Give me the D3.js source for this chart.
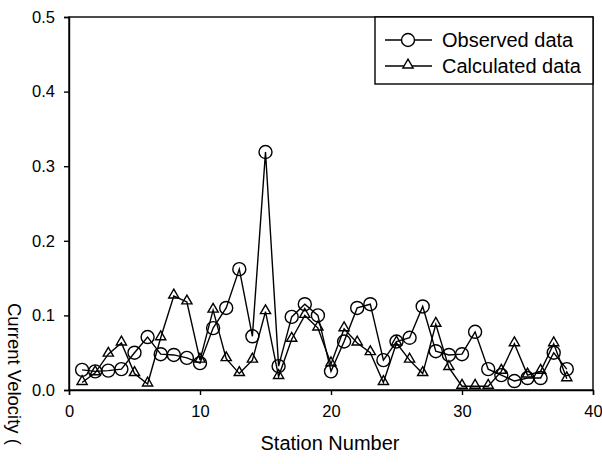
<!DOCTYPE html>
<html>
<head>
<meta charset="utf-8">
<script src="https://cdn.jsdelivr.net/npm/d3@7"></script>
<style>
body { margin: 0; background: #fff; }
svg { display: block; font-family: "Liberation Sans", Arial, sans-serif; }
</style>
</head>
<body>
<svg width="602" height="464"></svg>
<script>
const stations = d3.range(1, 39);
const observed = [0.027, 0.025, 0.026, 0.028, 0.05, 0.071, 0.048, 0.047, 0.043, 0.036,
	0.083, 0.11, 0.162, 0.072, 0.319, 0.032, 0.098, 0.115, 0.1, 0.025,
	0.065, 0.11, 0.115, 0.04, 0.065, 0.07, 0.112, 0.052, 0.047, 0.048,
	0.078, 0.028, 0.02, 0.012, 0.016, 0.016, 0.05, 0.028];
const calculated = [0.01, 0.023, 0.048, 0.063, 0.022, 0.008, 0.07, 0.126, 0.118, 0.04,
	0.107, 0.042, 0.022, 0.04, 0.105, 0.018, 0.068, 0.1, 0.083, 0.035,
	0.082, 0.063, 0.05, 0.01, 0.063, 0.04, 0.022, 0.088, 0.03, 0.005,
	0.005, 0.005, 0.025, 0.062, 0.02, 0.025, 0.062, 0.015];
const xTicks = [0, 10, 20, 30, 40];
const yTicks = [0.0, 0.1, 0.2, 0.3, 0.4, 0.5];

const svg = d3.select("svg");
const mLeft = 69, mRight = 593, mTop = 17, mBottom = 390;

const x = d3.scaleLinear().domain([0, 40]).range([mLeft, mRight]);
const y = d3.scaleLinear().domain([0, 0.5]).range([mBottom, mTop]);

// frame
svg.append("rect")
	.attr("x", mLeft).attr("y", mTop)
	.attr("width", mRight - mLeft).attr("height", mBottom - mTop)
	.attr("fill", "none").attr("stroke", "#000").attr("stroke-width", 1.4);

const xAxis = svg.append("g")
	.attr("transform", `translate(0,${mBottom})`)
	.call(d3.axisBottom(x).tickValues(xTicks).tickSize(5).tickPadding(10).tickFormat(d3.format("d")));
const yAxis = svg.append("g")
	.attr("transform", `translate(${mLeft},0)`)
	.call(d3.axisLeft(y).tickValues(yTicks).tickSize(5).tickPadding(9).tickFormat(d3.format(".1f")));

[xAxis, yAxis].forEach((g) => {
	g.select(".domain").attr("stroke-width", 1.4);
	g.selectAll("text").attr("font-size", 16.5).attr("font-family", "Liberation Sans, Arial, sans-serif").attr("fill", "#000");
	g.selectAll("line").attr("stroke-width", 1.4);
});

svg.append("text")
	.attr("x", (mLeft + mRight) / 2 - 1).attr("y", 450)
	.attr("text-anchor", "middle").attr("font-size", 20)
	.text("Station Number");

svg.append("text")
	.attr("transform", "translate(8,303) rotate(90)")
	.attr("font-size", 18.5)
	.text("Current Velocity (");

const line = d3.line().x((d, i) => x(stations[i])).y((d) => y(d));

svg.append("path").datum(calculated)
	.attr("d", line).attr("fill", "none").attr("stroke", "#000").attr("stroke-width", 1.4);
svg.append("path").datum(observed)
	.attr("d", line).attr("fill", "none").attr("stroke", "#000").attr("stroke-width", 1.4);

const tri = d3.symbol().type(d3.symbolTriangle).size(45);

svg.append("g").selectAll("circle").data(observed).join("circle")
	.attr("cx", (d, i) => x(stations[i])).attr("cy", (d) => y(d))
	.attr("r", 6.5).attr("fill", "none").attr("stroke", "#000").attr("stroke-width", 1.4);

svg.append("g").selectAll("path").data(calculated).join("path")
	.attr("transform", (d, i) => `translate(${x(stations[i])},${y(d) - 1})`)
	.attr("d", tri).attr("fill", "none").attr("stroke", "#000").attr("stroke-width", 1.4);

// legend
const legend = svg.append("g");
legend.append("rect")
	.attr("x", 375).attr("y", mTop).attr("width", mRight - 375).attr("height", 67)
	.attr("fill", "#fff").attr("stroke", "#000").attr("stroke-width", 1.4);
const items = [
	{ label: "Observed data", mark: "circle" },
	{ label: "Calculated data", mark: "triangle" },
];
items.forEach((it, i) => {
	const cy = 40 + i * 26;
	legend.append("line").attr("x1", 385).attr("x2", 432).attr("y1", cy).attr("y2", cy)
		.attr("stroke", "#000").attr("stroke-width", 1.3);
	if (it.mark === "circle") {
		legend.append("circle").attr("cx", 408).attr("cy", cy).attr("r", 6.5)
			.attr("fill", "#fff").attr("stroke", "#000").attr("stroke-width", 1.4);
	} else {
		legend.append("path").attr("transform", `translate(408,${cy - 1})`).attr("d", tri)
			.attr("fill", "#fff").attr("stroke", "#000").attr("stroke-width", 1.4);
	}
	legend.append("text").attr("x", 442).attr("y", cy + 7)
		.attr("font-size", 20).text(it.label);
});
</script>
</body>
</html>
